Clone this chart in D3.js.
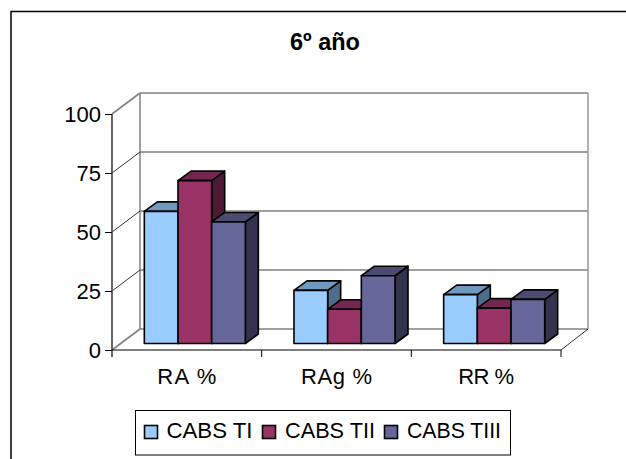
<!DOCTYPE html>
<html><head><meta charset="utf-8">
<script src="https://cdn.jsdelivr.net/npm/d3@7"></script>
<style>html,body{margin:0;padding:0;background:#fff}svg{display:block}text{font-family:"Liberation Sans",Arial,sans-serif;fill:#000}</style>
</head><body><div id="c"></div>
<script>
const categories = ["RA %", "RAg %", "RR %"];
const seriesNames = ["CABS TI", "CABS TII", "CABS TIII"];
const valuesTI = [56, 22.5, 20.7];
const valuesTII = [69, 14.5, 15];
const valuesTIII = [51.5, 28.7, 18.7];
const seriesValues = [valuesTI, valuesTII, valuesTIII];
const yTicks = [0, 25, 50, 75, 100];
const frontColors = ["#99ccff", "#993366", "#666699"];
const topColors = ["#7099bf", "#722650", "#4c4c72"];
const sideColors = ["#4f6c8a", "#4d1a33", "#33334d"];

const W = 626, H = 459;
const svg = d3.select("#c").append("svg").attr("width", W).attr("height", H);
const wallD = [28, -21], barOff = [8, -6.5], barD = [13, -9.5];

svg.append("rect").attr("x", 11).attr("y", 11.5).attr("width", 640).attr("height", 480)
  .attr("fill", "#fff").attr("stroke", "#000").attr("stroke-width", 1.5);

const x = d3.scaleBand().domain(categories).range([112, 561]);
const y = d3.scaleLinear().domain([0, 100]).range([350, 114]);
const gx = d3.scaleBand().domain(categories).range([112 + barOff[0], 561 + barOff[0]]).paddingInner(0.325).paddingOuter(0.1625);
const sx = d3.scaleBand().domain(d3.range(3)).range([0, gx.bandwidth()]);

// back wall and floor
const grey = "#808080";
const g = svg.append("g");
g.selectAll("line.grid").data(yTicks).join("line")
  .attr("x1", 140).attr("x2", 588)
  .attr("y1", d => y(d) + wallD[1]).attr("y2", d => y(d) + wallD[1])
  .attr("stroke", grey).attr("stroke-width", 1.5);
g.append("line").attr("x1", 140).attr("x2", 140).attr("y1", y(100) + wallD[1]).attr("y2", y(0) + wallD[1]).attr("stroke", grey).attr("stroke-width", 1.5);
g.append("line").attr("x1", 588).attr("x2", 588).attr("y1", y(100) + wallD[1]).attr("y2", y(0) + wallD[1]).attr("stroke", "#999").attr("stroke-width", 1.5);
// side wall rungs
g.selectAll("line.rung").data(yTicks).join("line")
  .attr("x1", 112).attr("x2", 140)
  .attr("y1", d => y(d)).attr("y2", d => y(d) + wallD[1])
  .attr("stroke", (d) => (d === 100 || d === 0) ? grey : "#000").attr("stroke-width", d => (d === 100 || d === 0) ? 1.6 : 0.8);
g.append("line").attr("x1", 561).attr("x2", 588).attr("y1", y(0)).attr("y2", y(0) + wallD[1]).attr("stroke", "#000").attr("stroke-width", .8);

// axes via d3
const ax = svg.append("g").attr("transform", "translate(112,0)")
  .call(d3.axisLeft(y).tickValues(yTicks).tickSize(7).tickSizeOuter(0).tickPadding(4));
ax.select(".domain").attr("stroke", "#555").attr("stroke-width", 1.8).attr("d", "M0," + y(100) + "V" + (y(0) + 7));
ax.selectAll("g.tick line").attr("stroke", "#000");
ax.selectAll("text").attr("font-size", 22).attr("font-family", '"Liberation Sans",Arial,sans-serif').attr("fill", "#000");

svg.append("line").attr("x1", 112).attr("x2", 561).attr("y1", y(0)).attr("y2", y(0)).attr("stroke", "#000");
svg.selectAll("line.tk").data(d3.range(1, 4)).join("line")
  .attr("x1", i => 112 + i * x.step()).attr("x2", i => 112 + i * x.step())
  .attr("y1", y(0)).attr("y2", y(0) + 7).attr("stroke", "#000");
const catWidths = [59, 71, 56];
svg.selectAll("text.cat").data(categories).join("text").attr("class", "cat")
  .attr("x", d => x(d) + x.bandwidth() / 2).attr("y", 384)
  .attr("text-anchor", "middle").attr("font-size", 22)
  .attr("textLength", (d, i) => catWidths[i]).attr("lengthAdjust", "spacing").text(d => d);

// bars
const flat = [];
categories.forEach((c, ci) => seriesValues.forEach((vals, si) => flat.push({c, si, v: vals[ci]})));
const bars = svg.append("g").selectAll("g").data(flat).join("g");
const y0 = y(0) + barOff[1];
const h = v => y(0) - y(v);
const pts = a => a.map(p => p.join(",")).join(" ");
bars.each(function(d) {
  const s = d3.select(this);
  const x0 = gx(d.c) + sx(d.si), x1 = x0 + sx.bandwidth(), t = y0 - h(d.v);
  const st = {stroke: "#000", "stroke-width": 1.6, "stroke-linejoin": "round"};
  const add = (p, f) => { const e = s.append("polygon").attr("points", pts(p)).attr("fill", f); for (const k in st) e.attr(k, st[k]); };
  add([[x1, y0], [x1 + barD[0], y0 + barD[1]], [x1 + barD[0], t + barD[1]], [x1, t]], sideColors[d.si]);
  add([[x0, t], [x1, t], [x1 + barD[0], t + barD[1]], [x0 + barD[0], t + barD[1]]], topColors[d.si]);
  add([[x0, y0], [x1, y0], [x1, t], [x0, t]], frontColors[d.si]);
});

// title
svg.append("text").attr("x", 325).attr("y", 49.5).attr("text-anchor", "middle")
  .attr("font-size", 23.5).attr("font-weight", "bold").text("6º año");

// legend
const lg = svg.append("g");
lg.append("rect").attr("x", 135.5).attr("y", 410.5).attr("width", 375).attr("height", 44.5).attr("fill", "#fff").attr("stroke", "#000");
const swatchX = [144.5, 262.5, 384.5], textX = [166.5, 285, 407];
seriesNames.forEach((n, i) => {
  lg.append("rect").attr("x", swatchX[i]).attr("y", 425.5).attr("width", 13).attr("height", 13)
    .attr("fill", frontColors[i]).attr("stroke", "#000").attr("stroke-width", 1.6);
  lg.append("text").attr("x", textX[i]).attr("y", 438).attr("font-size", 22).attr("textLength", [86, 90, 94][i]).attr("lengthAdjust", "spacingAndGlyphs").text(n);
});
</script></body></html>
